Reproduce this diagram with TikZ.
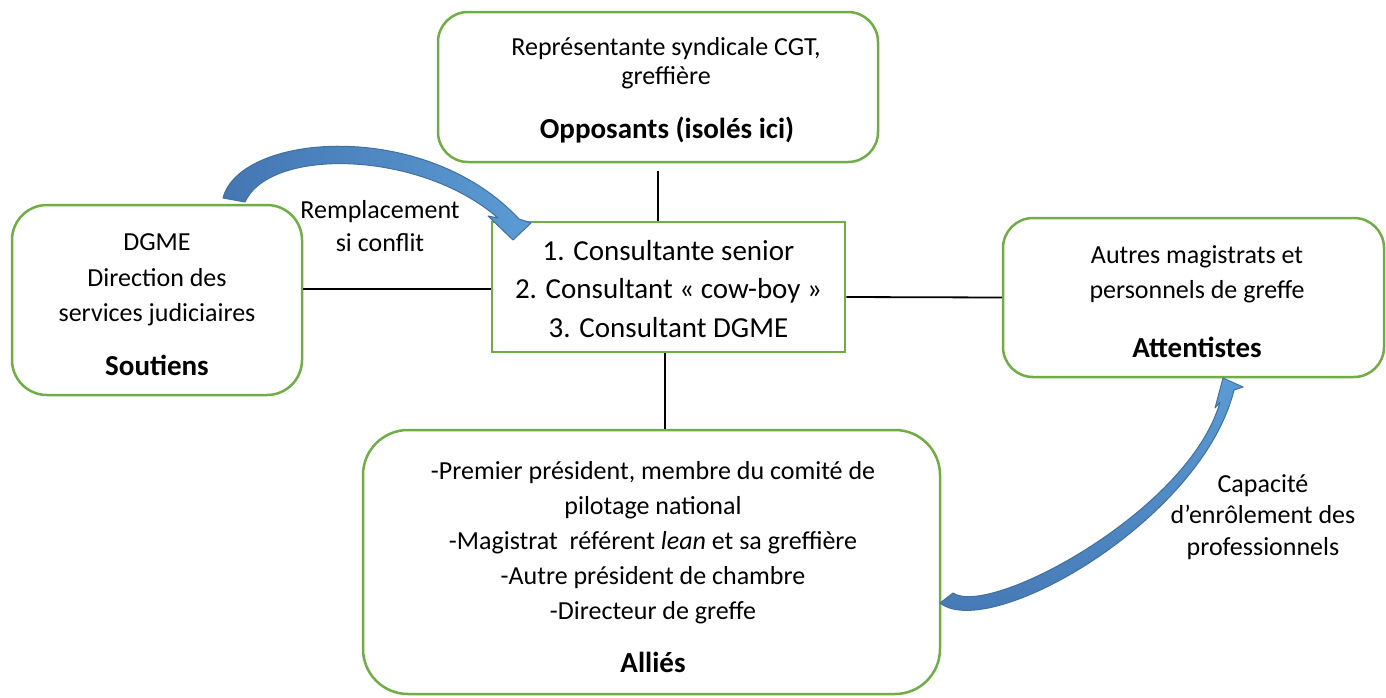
\documentclass[tikz,border=0pt]{standalone}
\usepackage{fontspec}
\setmainfont{Carlito}
\definecolor{boxgreen}{RGB}{112,173,71}
\definecolor{arrowlight}{RGB}{91,155,213}
\definecolor{arrowdark}{RGB}{68,118,178}
\definecolor{arrowline}{RGB}{65,113,156}
\begin{document}
\begin{tikzpicture}[x=1pt,y=-1pt,
  roundbox/.style={draw=boxgreen, line width=2.5pt, rounded corners=#1, inner sep=0pt, fill=white},
  roundbox/.default=32pt,
  sharpbox/.style={draw=boxgreen, line width=2.5pt, inner sep=0pt, fill=white},
  link/.style={draw=black, line width=1.8pt},
  txt/.style={anchor=base, inner sep=0pt, font=\fontsize{26}{32}\selectfont},
  bigtxt/.style={anchor=base, inner sep=0pt, font=\fontsize{29}{35}\selectfont},
  titletxt/.style={anchor=base, inner sep=0pt, font=\fontsize{29}{35}\selectfont\bfseries},
  blockarrow/.style={draw=arrowline, line width=1pt, line join=round}
]
\path[use as bounding box] (0,0) rectangle (1386,697);

% boxes
\node[roundbox=30pt, minimum width=440pt, minimum height=150pt] (top) at (658,87) {};
\node[roundbox=35pt, minimum width=290pt, minimum height=190pt] (left) at (157,300) {};
\node[sharpbox, minimum width=353pt, minimum height=130pt] (center) at (668.5,287) {};
\node[roundbox=30pt, minimum width=381pt, minimum height=159pt] (right) at (1193.5,297.5) {};
\node[roundbox=45pt, minimum width=577pt, minimum height=264pt] (bottom) at (651.5,562) {};

% connectors
\draw[link] ([yshift=-8pt]top.south) -- (top.south |- center.north);
\draw[link] ([yshift=11pt]left.east) -- ([yshift=-2pt]center.west);
\draw[link] ([yshift=-10pt]center.east) -- (right.west);
\coordinate (cb) at ([xshift=-3.5pt]center.south);
\draw[link] (cb) -- (cb |- bottom.north);

% texts: top
\node[txt] (t1) at (666,55) {Représentante syndicale CGT,};
\node[txt] (t2) at (666,84) {greffière};
\node[titletxt] (t3) at (667,138) {Opposants (isolés ici)};

% left
\node[txt] (l1) at (157,250) {DGME};
\node[txt] (l2) at (157,286) {Direction des};
\node[txt] (l3) at (157,321) {services judiciaires};
\node[titletxt] (l4) at (157,375) {Soutiens};

% center
\node[bigtxt] (c1) at (668.5,260) {1. Consultante senior};
\node[bigtxt] (c2) at (668.5,298) {2. Consultant « cow-boy »};
\node[bigtxt] (c3) at (668.5,337) {3. Consultant DGME};

% right
\node[txt] (r1) at (1197,263) {Autres magistrats et};
\node[txt] (r2) at (1197,298) {personnels de greffe};
\node[titletxt] (r3) at (1197,357) {Attentistes};

% bottom
\node[txt] (b1) at (653,479) {-Premier président, membre du comité de};
\node[txt] (b2) at (653,514) {pilotage national};
\node[txt] (b3) at (653,549) {-Magistrat\ \ référent \textit{lean} et sa greffière};
\node[txt] (b4) at (653,584) {-Autre président de chambre};
\node[txt] (b5) at (653,619) {-Directeur de greffe};
\node[titletxt] (b6) at (653,672) {Alliés};

% labels
\node[txt] (rem1) at (380,218) {Remplacement};
\node[txt] (rem2) at (380,251) {si conflit};
\node[txt] (cap1) at (1263,492) {Capacité};
\node[txt] (cap2) at (1263,523) {d’enrôlement des};
\node[txt] (cap3) at (1263,555) {professionnels};

% block arrows
\path[blockarrow, left color=arrowdark, right color=arrowlight]
  (223,198) .. controls (240,133) and (425,118) .. (519,219)
  -- (531,223) -- (513,240) -- (488,216) -- (498,218)
  .. controls (420,150) and (270,147) .. (245,202) -- cycle;

\path[blockarrow, bottom color=arrowdark, top color=arrowlight]
  (940,603) .. controls (990,642) and (1202,520) .. (1234,390)
  -- (1243,387) -- (1223,378) -- (1215,408) -- (1220,402)
  .. controls (1190,510) and (990,618) .. (953,593) -- cycle;
\end{tikzpicture}
\end{document}
